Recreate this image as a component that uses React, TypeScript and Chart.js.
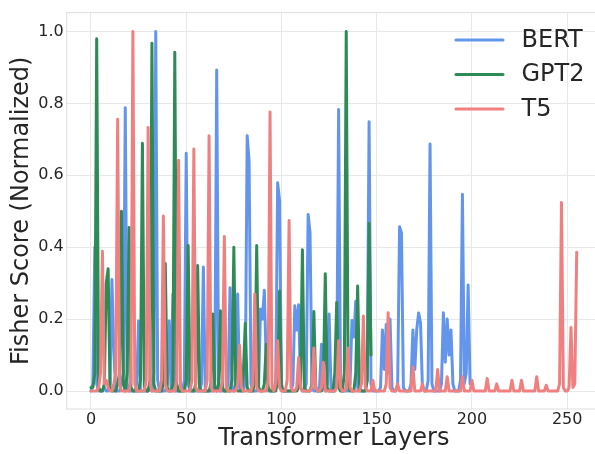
import React, { useEffect, useRef } from "react";
import { Chart, registerables } from "chart.js";

Chart.register(...registerables);

// Normalized Fisher scores per transformer layer
const BERT: number[] = [
  0, 0.02, 0.4, 0.02, 0, 0, 0, 0.01, 0, 0,
  0.02, 0.31, 0.11, 0, 0, 0, 0.02, 0.05, 0.788, 0.02,
  0, 0, 0, 0, 0.02, 0.195, 0, 0, 0, 0,
  0, 0.01, 0, 0.05, 1.0, 0.03, 0, 0, 0, 0,
  0.02, 0.195, 0.01, 0.27, 0, 0, 0, 0, 0, 0.03,
  0.661, 0.02, 0, 0, 0, 0, 0, 0, 0.02, 0.345,
  0, 0, 0, 0, 0, 0.03, 0.893, 0.02, 0, 0,
  0, 0, 0.02, 0.287, 0.01, 0, 0.02, 0.27, 0.01, 0,
  0, 0.03, 0.71, 0.64, 0.02, 0, 0, 0, 0.02, 0.228,
  0.2, 0.28, 0.08, 0, 0, 0, 0, 0.03, 0.579, 0.53,
  0.02, 0, 0, 0, 0, 0, 0.02, 0.237, 0.17, 0.24,
  0.01, 0, 0, 0.02, 0.491, 0.44, 0.01, 0, 0, 0,
  0.01, 0.13, 0.01, 0, 0.02, 0.214, 0.01, 0, 0, 0.03,
  0.783, 0.02, 0, 0, 0, 0, 0.02, 0.196, 0.15, 0.25,
  0.01, 0, 0, 0, 0, 0.03, 0.749, 0.02, 0, 0,
  0, 0, 0.01, 0.17, 0.06, 0.185, 0.05, 0.2, 0.01, 0,
  0, 0.02, 0.457, 0.44, 0.01, 0, 0, 0, 0.02, 0.17,
  0.06, 0.17, 0.217, 0.19, 0.01, 0, 0, 0.03, 0.687, 0.02,
  0, 0, 0, 0, 0.02, 0.218, 0.08, 0.2, 0.1, 0.17,
  0.02, 0, 0, 0, 0.03, 0.547, 0.02, 0.05, 0.295, 0.02,
];

const GPT2: number[] = [
  0.01, 0.01, 0.05, 0.98, 0.01, 0, 0, 0.02, 0.3, 0.34,
  0.01, 0, 0, 0, 0.02, 0.05, 0.5, 0.02, 0, 0.05,
  0.455, 0.01, 0, 0, 0, 0, 0.03, 0.689, 0.01, 0,
  0, 0.03, 0.967, 0.02, 0, 0, 0, 0, 0.02, 0.355,
  0.01, 0, 0, 0.02, 0.942, 0.02, 0, 0, 0, 0,
  0.03, 0.405, 0.01, 0, 0, 0.02, 0.349, 0.01, 0, 0,
  0, 0, 0, 0.02, 0.214, 0.01, 0, 0.02, 0.223, 0.01,
  0, 0, 0, 0, 0.03, 0.4, 0.01, 0, 0, 0,
  0.05, 0.188, 0.01, 0, 0, 0, 0.03, 0.405, 0.01, 0,
  0, 0.02, 0.13, 0.01, 0, 0, 0, 0, 0.03, 0.278,
  0.01, 0, 0, 0, 0, 0, 0, 0, 0, 0.01,
  0.03, 0.393, 0.01, 0, 0, 0, 0.02, 0.221, 0.01, 0,
  0, 0, 0.03, 0.326, 0.01, 0, 0, 0, 0.05, 0.246,
  0.01, 0, 0, 0.05, 1.0, 0.02, 0, 0, 0, 0.05,
  0.292, 0.01, 0, 0, 0, 0.03, 0.466, 0.1,
];

const T5: number[] = [
  0, 0, 0, 0, 0.01, 0.05, 0.389, 0.02, 0.03, 0.01,
  0, 0, 0.02, 0.05, 0.756, 0.02, 0, 0, 0, 0,
  0, 0.03, 1.0, 0.02, 0, 0, 0, 0, 0, 0.03,
  0.733, 0.02, 0, 0, 0, 0, 0, 0.03, 0.487, 0.02,
  0, 0, 0, 0, 0, 0.03, 0.642, 0.01, 0, 0,
  0, 0, 0, 0.03, 0.673, 0.01, 0, 0, 0, 0,
  0, 0.03, 0.71, 0.01, 0, 0, 0, 0, 0, 0.03,
  0.43, 0.01, 0, 0, 0, 0, 0, 0.02, 0.127, 0.01,
  0, 0, 0, 0, 0, 0.02, 0.27, 0.01, 0, 0,
  0, 0, 0, 0.03, 0.776, 0.01, 0, 0.02, 0.14, 0.01,
  0, 0, 0, 0.03, 0.474, 0.01, 0, 0, 0.01, 0.093,
  0.01, 0, 0, 0, 0, 0, 0.01, 0.12, 0.01, 0,
  0, 0.01, 0.08, 0, 0, 0, 0, 0, 0, 0.01,
  0.14, 0.01, 0, 0, 0.01, 0.12, 0.01, 0, 0, 0,
  0, 0, 0.02, 0.209, 0.01, 0, 0, 0, 0.03, 0,
  0, 0, 0, 0, 0, 0.02, 0.218, 0.01, 0, 0,
  0, 0.02, 0, 0, 0, 0, 0, 0, 0, 0.067,
  0, 0, 0, 0, 0.02, 0, 0, 0, 0, 0,
  0, 0, 0.06, 0, 0, 0, 0, 0.04, 0, 0,
  0, 0, 0, 0, 0, 0.04, 0, 0, 0, 0,
  0.03, 0, 0, 0, 0, 0, 0, 0, 0.035, 0,
  0, 0, 0, 0.02, 0, 0, 0, 0, 0, 0,
  0, 0.03, 0, 0, 0, 0, 0.03, 0, 0, 0,
  0, 0, 0, 0, 0.04, 0, 0, 0, 0, 0.016,
  0, 0, 0, 0, 0, 0, 0.02, 0.524, 0.01, 0,
  0, 0.01, 0.177, 0.01, 0.02, 0.386,
];

const SERIES_NAMES = ["BERT", "GPT2", "T5"];
const SERIES_COLORS = ["#6495ED", "#2E8B57", "#F08080"];
const X_TITLE = "Transformer Layers";
const Y_TITLE = "Fisher Score (Normalized)";

const FONT = '"DejaVu Sans", "Liberation Sans", sans-serif';
const TEXT_COLOR = "#262626";

const toPoints = (arr: number[]) => arr.map((v, i) => ({ x: i, y: v }));

const framePlugin = {
  id: "frameAndLegend",
  afterDraw(chart: any) {
    const { ctx, chartArea } = chart;
    ctx.save();
    ctx.strokeStyle = "#dedede";
    ctx.lineWidth = 1;
    ctx.strokeRect(chartArea.left, chartArea.top, chartArea.right - chartArea.left, chartArea.bottom - chartArea.top);
    // legend
    ctx.font = `24px ${FONT}`;
    ctx.textBaseline = "middle";
    ctx.textAlign = "left";
    SERIES_NAMES.forEach((name, i) => {
      const y = 40 + i * 34.5;
      ctx.strokeStyle = SERIES_COLORS[i];
      ctx.lineWidth = 3;
      ctx.lineCap = "round";
      ctx.beginPath();
      ctx.moveTo(456, y);
      ctx.lineTo(503, y);
      ctx.stroke();
      ctx.fillStyle = TEXT_COLOR;
      ctx.fillText(name, 521.5, y + 0.5);
    });
    ctx.restore();
  },
};

export default function App() {
  const canvasRef = useRef<HTMLCanvasElement | null>(null);

  useEffect(() => {
    if (!canvasRef.current) return;
    const series = [BERT, GPT2, T5];
    const chart = new Chart(canvasRef.current, {
      type: "line",
      data: {
        datasets: series.map((arr, i) => ({
          label: SERIES_NAMES[i],
          data: toPoints(arr),
          borderColor: SERIES_COLORS[i],
          backgroundColor: SERIES_COLORS[i],
          borderWidth: 3,
          borderJoinStyle: "round",
          borderCapStyle: "round",
          pointRadius: 0,
          tension: 0,
          cubicInterpolationMode: "default",
          fill: false,
          order: 2 - i,
        })),
      },
      options: {
        animation: false,
        responsive: false,
        devicePixelRatio: 1,
        layout: { padding: { top: 9.3, right: 4, bottom: 0, left: 0 } },
        plugins: {
          legend: { display: false },
          tooltip: { enabled: false },
        },
        scales: {
          x: {
            type: "linear",
            min: -12.75,
            max: 267.75,
            afterFit: (s: any) => {
              s.height = 45;
            },
            ticks: {
              stepSize: 50,
              includeBounds: false,
              padding: 1,
              color: TEXT_COLOR,
              font: { family: FONT, size: 16 },
              maxRotation: 0,
            },
            grid: { color: "#e8e8e8", lineWidth: 1, drawTicks: false },
            border: { display: false },
            title: {
              display: true,
              text: X_TITLE,
              color: TEXT_COLOR,
              font: { family: FONT, size: 24 },
              padding: { top: 0, bottom: 0.6 },
            },
          },
          y: {
            type: "linear",
            min: -0.05,
            max: 1.0525,
            afterFit: (s: any) => {
              s.width = 66.7;
            },
            ticks: {
              stepSize: 0.2,
              includeBounds: false,
              padding: 3,
              color: TEXT_COLOR,
              font: { family: FONT, size: 16 },
              callback: (v: any) => Number(v).toFixed(1),
            },
            grid: { color: "#e8e8e8", lineWidth: 1, drawTicks: false },
            border: { display: false },
            title: {
              display: true,
              text: Y_TITLE,
              color: TEXT_COLOR,
              font: { family: FONT, size: 24 },
              padding: { top: 7.6, bottom: 0 },
            },
          },
        },
      },
      plugins: [framePlugin],
    });
    return () => chart.destroy();
  }, []);

  return (
    <div
      style={{
        position: "absolute",
        left: 0,
        top: 0,
        width: 595,
        height: 454,
        overflow: "hidden",
        background: "#ffffff",
      }}
    >
      <canvas ref={canvasRef} width={605} height={454} style={{ width: 605, height: 454, display: "block" }} />
    </div>
  );
}
